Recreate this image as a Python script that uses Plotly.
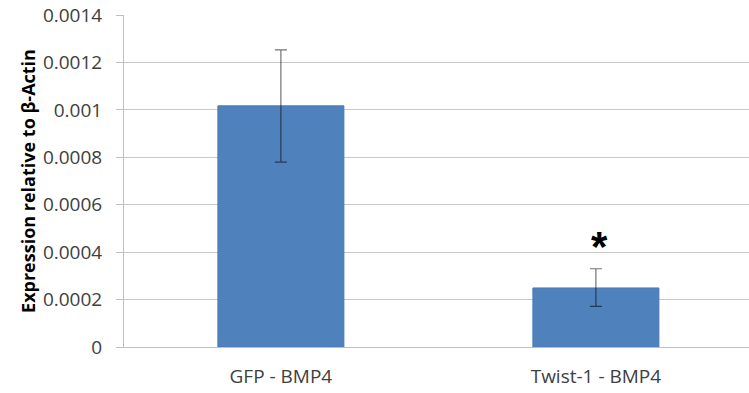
import plotly.graph_objects as go

categories = ["GFP - BMP4", "Twist-1 - BMP4"]
values = [0.001017, 0.000249]
err_plus = [0.000236, 0.000081]
err_minus = [0.000237, 0.000078]
star_labels = ["", "*"]
star_y = [None, 0.000425]
y_ticks = [0, 0.0002, 0.0004, 0.0006, 0.0008, 0.001, 0.0012, 0.0014]
y_tick_text = ["0", "0.0002", "0.0004", "0.0006", "0.0008", "0.001", "0.0012", "0.0014"]

fig = go.Figure()
fig.add_trace(go.Bar(
    x=[0, 1], y=values, width=0.4,
    marker=dict(color="#4f81bd", line=dict(color="#4a7ab5", width=1)),
    error_y=dict(type="data", symmetric=False, array=err_plus, arrayminus=err_minus,
                 color="rgba(0,0,0,0.55)", thickness=1.2, width=6),
    hoverinfo="skip",
))
for i, (lab, sy) in enumerate(zip(star_labels, star_y)):
    if lab:
        fig.add_annotation(x=i, y=sy, text="<b>" + lab + "</b>", showarrow=False,
                           font=dict(size=42, color="#000000", family="Liberation Sans"),
                           xshift=4, yanchor="middle")

fig.update_layout(
    width=749, height=393,
    margin=dict(l=124, r=0, t=15, b=46),
    plot_bgcolor="white", paper_bgcolor="white",
    showlegend=False,
    font=dict(family="Open Sans", color="#595959", size=19),
    xaxis=dict(
        range=[-0.498, 1.486], tickmode="array", tickvals=[0, 1], ticktext=categories,
        showgrid=False, showline=True, linecolor="#bfbfbf", linewidth=1,
        ticks="", tickfont=dict(size=19, color="#404040"), ticklabelstandoff=12,
        zeroline=False,
    ),
    yaxis=dict(
        range=[0, 0.0014], tickmode="array", tickvals=y_ticks, ticktext=y_tick_text,
        showgrid=True, gridcolor="#c8c8c8", gridwidth=1,
        showline=True, linecolor="#bfbfbf", linewidth=1,
        ticks="outside", ticklen=7, tickcolor="#bfbfbf",
        tickfont=dict(size=19, color="#404040"), ticklabelstandoff=10,
        zeroline=False,
        title=dict(text="<b>Expression relative to β-Actin</b>",
                   font=dict(size=18, color="#000000", family="Open Sans"), standoff=2),
    ),
)

fig.write_html("out.html")
